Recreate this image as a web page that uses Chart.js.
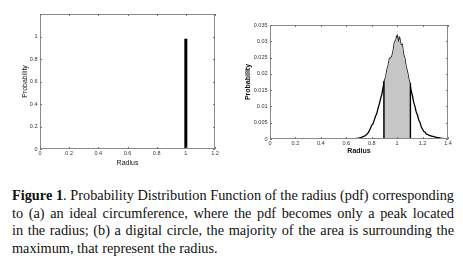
<!DOCTYPE html>
<html>
<head>
<meta charset="utf-8">
<script src="https://cdn.jsdelivr.net/npm/chart.js@4"></script>
<style>
  html, body { margin: 0; padding: 0; background: #fff; }
  body { width: 463px; height: 269px; position: relative; overflow: hidden; }
  .box { position: absolute; top: 0; height: 170px; }
  #boxA { left: 0; width: 230px; }
  #boxB { left: 230px; width: 233px; }
  #caption {
    position: absolute; left: 12px; top: 187px; width: 442px;
    font-family: "Liberation Serif", "DejaVu Serif", serif;
    font-size: 14.3px; line-height: 17.5px; color: #111;
  }
  #caption span { display: block; white-space: nowrap; text-align: justify; text-align-last: justify; }
  #caption span.last { text-align-last: left; }
</style>
</head>
<body>
<div class="box" id="boxA"><canvas id="idealChart"></canvas></div>
<div class="box" id="boxB"><canvas id="digitalChart"></canvas></div>
<div id="caption">
  <span><b>Figure 1</b>. Probability Distribution Function of the radius (pdf) corresponding</span>
  <span>to (a) an ideal circumference, where the pdf becomes only a peak located</span>
  <span>in the radius; (b) a digital circle, the majority of the area is surrounding the</span>
  <span class="last">maximum, that represent the radius.</span>
</div>
<script>
// (a) ideal circumference: single peak at the radius
const idealRadius = [1, 1];
const idealProb = [0, 0.98];

// (b) digital circle: histogram of radius
const digitalRadius = [
  0.65, 0.66, 0.67, 0.68, 0.69, 0.70, 0.71, 0.72, 0.73, 0.74,
  0.75, 0.76, 0.77, 0.78, 0.79, 0.80, 0.81, 0.82, 0.83, 0.84,
  0.85, 0.86, 0.87, 0.88, 0.89, 0.90, 0.91, 0.92, 0.93, 0.94,
  0.95, 0.96, 0.97, 0.98, 0.99, 1.00, 1.01, 1.02, 1.03, 1.04,
  1.05, 1.06, 1.07, 1.08, 1.09, 1.10, 1.11, 1.12, 1.13, 1.14,
  1.15, 1.16, 1.17, 1.18, 1.19, 1.20, 1.21, 1.22, 1.23, 1.24,
  1.25, 1.26, 1.27, 1.28, 1.29, 1.30, 1.31, 1.32, 1.33, 1.34,
  1.35, 1.36, 1.37, 1.38, 1.39, 1.40
];
const digitalProb = [
  0.0000, 0.0001, 0.0001, 0.0002, 0.0002, 0.0003, 0.0004, 0.0005, 0.0007, 0.0008,
  0.0011, 0.0014, 0.0018, 0.0024, 0.0033, 0.0042, 0.0046, 0.0058, 0.0070, 0.0078,
  0.0095, 0.0108, 0.0124, 0.0138, 0.0160, 0.0178, 0.0190, 0.0212, 0.0226, 0.0247,
  0.0249, 0.0255, 0.0273, 0.0298, 0.0304, 0.0316, 0.0296, 0.0309, 0.0288, 0.0290,
  0.0260, 0.0248, 0.0222, 0.0208, 0.0186, 0.0172, 0.0148, 0.0134, 0.0113, 0.0100,
  0.0083, 0.0074, 0.0058, 0.0051, 0.0037, 0.0030, 0.0023, 0.0021, 0.0015, 0.0014,
  0.0011, 0.0010, 0.0009, 0.0008, 0.0007, 0.0006, 0.0005, 0.0004, 0.0004, 0.0003,
  0.0002, 0.0002, 0.0001, 0.0001, 0.0000, 0.0000
];
// shaded band around the maximum and its marker lines
const bandFrom = 0.9;
const bandTo = 1.1;
const markerRadius = [0.9, 1.0, 1.1];

const fontFamily = '"Liberation Sans", Arial, sans-serif';

function points(xs, ys) {
  return xs.map((x, i) => ({ x: x, y: ys[i] }));
}
function probAt(r) {
  const i = digitalRadius.findIndex(v => Math.abs(v - r) < 1e-9);
  return digitalProb[i];
}

// MATLAB-like box with inward ticks
const boxPlugin = {
  id: 'matlabBox',
  afterDatasetsDraw(chart) {
    const { ctx, chartArea: a, scales } = chart;
    ctx.save();
    ctx.strokeStyle = '#8a8a8a';
    ctx.lineWidth = 1;
    ctx.strokeRect(a.left + 0.5, a.top + 0.5, a.right - a.left - 1, a.bottom - a.top - 1);
    ctx.strokeStyle = '#777';
    ctx.beginPath();
    scales.x.ticks.forEach(t => {
      const px = Math.round(scales.x.getPixelForValue(t.value)) + 0.5;
      ctx.moveTo(px, a.bottom); ctx.lineTo(px, a.bottom - 2);
      ctx.moveTo(px, a.top); ctx.lineTo(px, a.top + 2);
    });
    scales.y.ticks.forEach(t => {
      const py = Math.round(scales.y.getPixelForValue(t.value)) + 0.5;
      ctx.moveTo(a.left, py); ctx.lineTo(a.left + 2, py);
      ctx.moveTo(a.right, py); ctx.lineTo(a.right - 2, py);
    });
    ctx.stroke();
    ctx.restore();
  }
};

function axis(min, max, step, titleText, bold, titlePad, tickPad, fmt, size) {
  return {
    type: 'linear',
    min: min,
    max: max,
    afterFit(s) {
      if (s.isHorizontal()) s.height = size; else s.width = size;
    },
    grid: { display: false, drawTicks: false },
    border: { display: false },
    ticks: {
      stepSize: step,
      autoSkip: false,
      maxRotation: 0,
      padding: tickPad,
      color: '#333',
      font: { family: fontFamily, size: 5.5 },
      callback: fmt
    },
    title: {
      display: true,
      text: titleText,
      color: '#111',
      padding: titlePad,
      font: { family: fontFamily, size: 7, weight: bold ? 'bold' : 'normal' }
    }
  };
}

const baseOptions = {
  responsive: true,
  maintainAspectRatio: false,
  animation: false,
  plugins: { legend: { display: false }, tooltip: { enabled: false } },
  elements: { point: { radius: 0 }, line: { tension: 0 } }
};

const fmt1 = v => String(Math.round(v * 10) / 10);
const fmt3 = v => String(parseFloat(v.toFixed(3)));

// (a) ideal circumference
new Chart(document.getElementById('idealChart'), {
  type: 'line',
  data: {
    datasets: [{
      data: points(idealRadius, idealProb),
      borderColor: '#000',
      borderWidth: 3,
      borderCapStyle: 'butt'
    }]
  },
  options: Object.assign({}, baseOptions, {
    layout: { padding: { top: 14, right: 15, left: 0, bottom: 0 } },
    scales: {
      x: axis(0, 1.2, 0.2, 'Radius', false, { top: 0, bottom: 2.8 }, 1.5, fmt1, 21),
      y: axis(0, 1.2, 0.2, 'Probability', false, { top: 20.8, bottom: 0 }, 2.5,
        v => (v > 1.1 ? '' : fmt1(v)), 40)
    }
  }),
  plugins: [boxPlugin]
});

// (b) digital circle
const bandX = digitalRadius.filter(r => r >= bandFrom - 1e-9 && r <= bandTo + 1e-9);
const bandY = bandX.map(probAt);
const markerSets = markerRadius.map(r => ({
  data: points([r, r], [0, probAt(r)]),
  borderColor: '#000',
  borderWidth: 2.5,
  borderCapStyle: 'butt'
}));

new Chart(document.getElementById('digitalChart'), {
  type: 'line',
  data: {
    datasets: [
      {
        data: points(bandX, bandY),
        borderColor: 'rgba(0,0,0,0)',
        borderWidth: 0,
        backgroundColor: '#c6c6c6',
        fill: 'origin'
      },
      ...markerSets,
      {
        data: points(digitalRadius, digitalProb),
        borderColor: '#000',
        borderWidth: 1.3
      }
    ]
  },
  options: Object.assign({}, baseOptions, {
    layout: { padding: { top: 25, right: 15, left: 0, bottom: 0 } },
    scales: {
      x: axis(0, 1.4, 0.2, 'Radius', true, { top: 0, bottom: 14.8 }, 1, fmt1, 31),
      y: axis(0, 0.035, 0.005, 'Probability', true, { top: 13.8, bottom: 0 }, 2.5, fmt3, 40)
    }
  }),
  plugins: [boxPlugin]
});
</script>
</body>
</html>
